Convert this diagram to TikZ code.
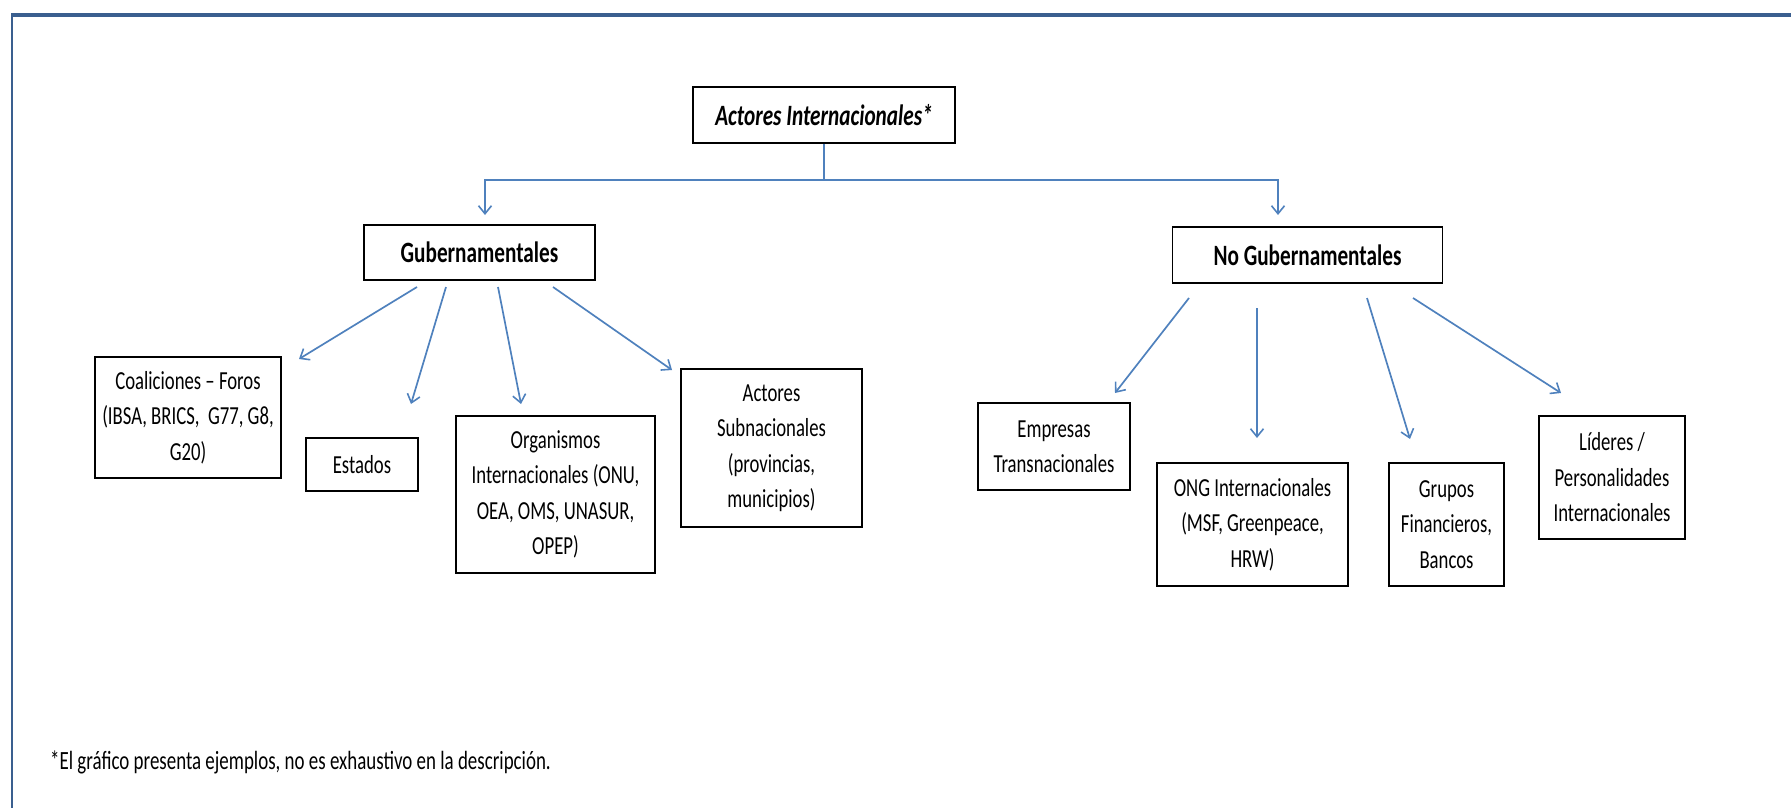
\documentclass[tikz,border=0pt]{standalone}
\usepackage{fontspec}
\setmainfont{Carlito}[FakeStretch=0.72]
\usetikzlibrary{arrows.meta}
\definecolor{arrblue}{RGB}{79,129,189}
\definecolor{frameblue}{RGB}{58,95,143}
\begin{document}
\begin{tikzpicture}[x=1pt,y=-1pt,
  box/.style={draw=black,line width=1.6pt,fill=white,inner sep=0pt,align=center,
    font=\fontsize{26}{35.5}\selectfont},
  headbox/.style={box,font=\fontsize{29.5}{34}\selectfont\bfseries},
  titlebox/.style={box,font=\fontsize{29.5}{34}\selectfont\bfseries\itshape},
  arr/.style={draw=arrblue,line width=1.7pt,
    -{Straight Barb[length=8pt,width=13pt,line width=1.6pt]}},
  conn/.style={draw=arrblue,line width=1.4pt},
  note/.style={inner sep=0pt,anchor=base west,font=\fontsize{26.3}{30}\selectfont}]
\useasboundingbox (0,0) rectangle (1791,808);
% frame
\draw[frameblue,line width=2.5pt] (12,808) -- (12,15) -- (1791,15);
\draw[frameblue,line width=4pt] (11,15) -- (1791,15);

% nodes
\node[titlebox,minimum width=262pt,minimum height=56pt] (top) at (824,115) {Actores Internacionales*};
\node[headbox,minimum width=231pt,minimum height=55pt] (gub) at (479.5,252.5) {Gubernamentales};
\node[headbox,minimum width=270pt,minimum height=56pt] (nogub) at (1307.5,255) {No Gubernamentales};

\node[box,minimum width=186pt,minimum height=121pt] (coal) at (188,417.5)
  {Coaliciones – Foros\\(IBSA, BRICS,~ G77, G8,\\G20)};
\node[box,minimum width=112pt,minimum height=53pt] (est) at (362,464.5) {Estados};
\node[box,minimum width=199pt,minimum height=157pt] (org) at (555.5,494.5)
  {Organismos\\Internacionales (ONU,\\OEA, OMS, UNASUR,\\OPEP)};
\node[box,minimum width=181pt,minimum height=158pt] (sub) at (771.5,448)
  {Actores\\Subnacionales\\(provincias,\\municipios)};

\node[box,minimum width=152pt,minimum height=87pt] (emp) at (1054,446.5)
  {Empresas\\Transnacionales};
\node[box,minimum width=191pt,minimum height=123pt] (ong) at (1252.5,524.5)
  {ONG Internacionales\\(MSF, Greenpeace,\\HRW)};
\node[box,minimum width=115pt,minimum height=123pt] (gru) at (1446.5,524.5)
  {Grupos\\Financieros,\\Bancos};
\node[box,minimum width=146pt,minimum height=123pt] (lid) at (1612,477.5)
  {Líderes /\\Personalidades\\Internacionales};

\node[note] (fn) at (50,769) {*El gráfico presenta ejemplos, no es exhaustivo en la descripción.};

% top connector
\coordinate (jn) at (824,180);
\coordinate (gubin) at (485,215);
\coordinate (nogubin) at (1278,215);
\draw[conn] (top.south) -- (jn);
\draw[arr] (jn) -| (gubin);
\draw[arr] (jn) -| (nogubin);

% left arrows
\coordinate (g1s) at (417,287); \coordinate (g1e) at (299,359);
\coordinate (g2s) at (446,287); \coordinate (g2e) at (411,404);
\coordinate (g3s) at (498,287); \coordinate (g3e) at (521,404);
\coordinate (g4s) at (553,287); \coordinate (g4e) at (672,370);
\draw[arr] (g1s) -- (g1e);
\draw[arr] (g2s) -- (g2e);
\draw[arr] (g3s) -- (g3e);
\draw[arr] (g4s) -- (g4e);

% right arrows
\coordinate (n1s) at (1189,298); \coordinate (n1e) at (1115,393);
\coordinate (n2s) at (1257,308); \coordinate (n2e) at (1257,438);
\coordinate (n3s) at (1367,298); \coordinate (n3e) at (1410,439);
\coordinate (n4s) at (1413,298); \coordinate (n4e) at (1561,393);
\draw[arr] (n1s) -- (n1e);
\draw[arr] (n2s) -- (n2e);
\draw[arr] (n3s) -- (n3e);
\draw[arr] (n4s) -- (n4e);
\end{tikzpicture}
\end{document}
